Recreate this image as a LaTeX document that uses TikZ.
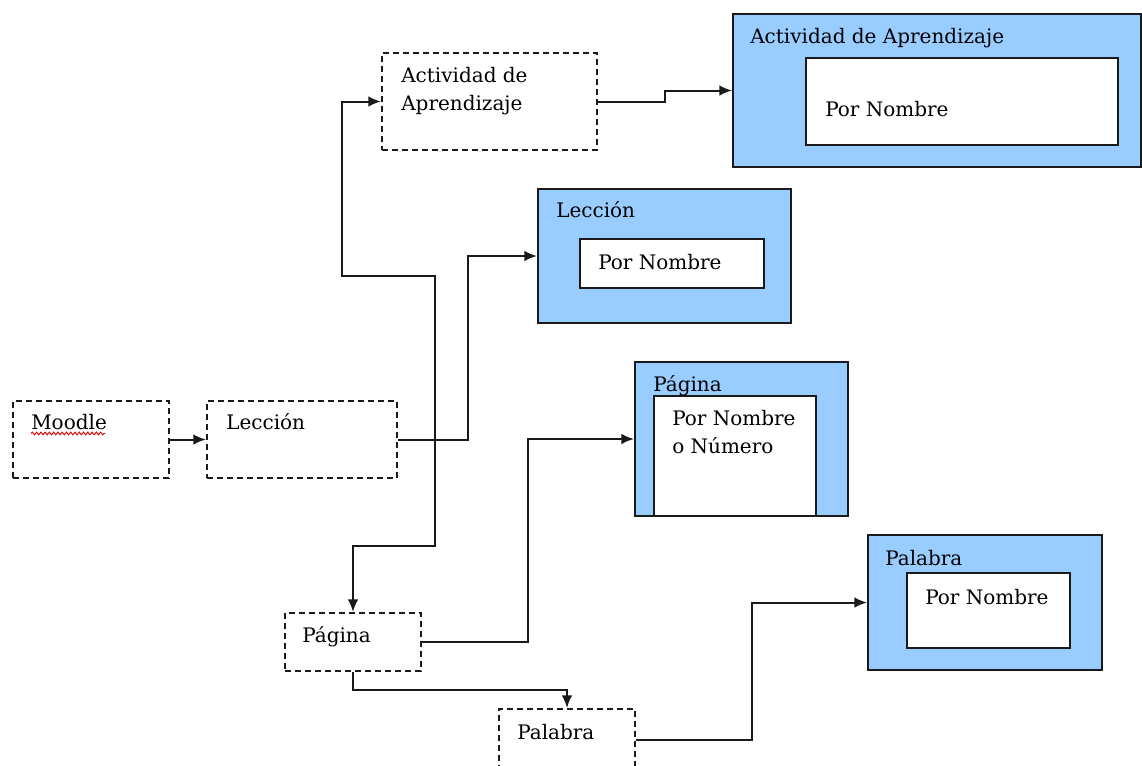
\documentclass[tikz,border=0pt]{standalone}
\usepackage{fontspec}
\setmainfont{DejaVu Serif}
\usetikzlibrary{arrows.meta,fit,decorations.pathmorphing}
\definecolor{boxblue}{HTML}{99CCFF}
\definecolor{edge}{HTML}{1A1A1A}
\tikzset{
  dashbox/.style={draw=edge, line width=1.5pt, dash pattern=on 4.5pt off 3pt, inner sep=0pt, fit={#1}},
  bluebox/.style={draw=edge, fill=boxblue, line width=1.5pt, inner sep=0pt, fit={#1}},
  whitebox/.style={draw=edge, fill=white, line width=1.5pt, inner sep=0pt, fit={#1}},
  lbl/.style={anchor=mid west, inner sep=0pt, font=\fontsize{15}{21}\selectfont},
  tip/.tip={Latex[length=9.5pt,width=8pt]},
  link/.style={draw=edge, line width=1.5pt, -tip},
}
\begin{document}
\begin{tikzpicture}[x=0.75pt, y=-0.75pt]
\useasboundingbox (0,0) rectangle (1142,765);
\clip (0,0) rectangle (1142,765);

% dashed source boxes
\node[dashbox={(13,401)(169,478)}] (moodle) {};
\node[dashbox={(207,401)(397,478)}] (lecD) {};
\node[dashbox={(382,53)(597,150)}] (actD) {};
\node[dashbox={(285,613)(421,671)}] (pagD) {};
\node[dashbox={(499,709)(635,771)}] (palD) {};

\node[lbl] (moodleT) at (31,426) {Moodle};
\draw[red!85!black, line width=0.7pt, decorate, decoration={snake, amplitude=1pt, segment length=3.2pt}]
  (moodleT.base west) ++(0,4) -- ++(74,0);
\node[lbl] (lecDT) at (226,426) {Lección};
\node[lbl] (actDT1) at (401,79) {Actividad de};
\node[lbl] (actDT2) at (401,107) {Aprendizaje};
\node[lbl] (pagDT) at (302,639) {Página};
\node[lbl] (palDT) at (517,736) {Palabra};

% blue target boxes
\node[bluebox={(733,14)(1141,167)}] (actB) {};
\node[whitebox={(806,58)(1118,145)}] (actI) {};
\node[lbl] (actBT) at (750,40) {Actividad de Aprendizaje};
\node[lbl] (actIT) at (825,113) {Por Nombre};

\node[bluebox={(538,189)(791,323)}] (lecB) {};
\node[whitebox={(580,239)(764,288)}] (lecI) {};
\node[lbl] (lecBT) at (556,214) {Lección};
\node[lbl] (lecIT) at (598,266) {Por Nombre};

\node[bluebox={(635,362)(848,516)}] (pagB) {};
\node[whitebox={(654,396)(816,516)}] (pagI) {};
\node[lbl] (pagBT) at (653,388) {Página};
\node[lbl] (pagIT1) at (672,422) {Por Nombre};
\node[lbl] (pagIT2) at (672,450) {o Número};

\node[bluebox={(868,535)(1102,670)}] (palB) {};
\node[whitebox={(907,573)(1070,648)}] (palI) {};
\node[lbl] (palBT) at (885,562) {Palabra};
\node[lbl] (palIT) at (925,601) {Por Nombre};

% connectors
\draw[link] (moodle.east) -- (lecD.west);
\draw[link] (lecD.east) -- ++(70,0) |- (lecB.west);
\draw[link] (actD.east) -- ++(67,0) |- (actB.west);
\draw[link] (pagD.east) -- ++(106,0) |- (pagB.west);
\draw[link] (pagD.south) -- ++(0,18) -| (palD.north);
\draw[link] (palD.east) -- ++(116,0) |- (palB.west);
\draw[draw=edge, line width=1.5pt, tip-tip]
  (actD.west) -- ++(-39,0) -- ++(0,174) -- ++(93,0) -- ++(0,270) -| (pagD.north);
\end{tikzpicture}
\end{document}
